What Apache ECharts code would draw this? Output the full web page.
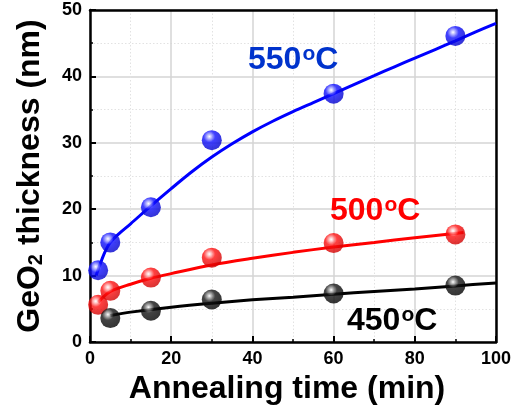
<!DOCTYPE html>
<html><head><meta charset="utf-8">
<script src="https://cdn.jsdelivr.net/npm/echarts@6/dist/echarts.min.js"></script>
<style>html,body{margin:0;padding:0;background:#fff}#c{width:528px;height:414px}</style>
</head><body><div id="c"></div>
<script>
// measured points
const x450 = [5, 15, 30, 60, 90];
const y450 = [3.6, 4.7, 6.4, 7.3, 8.5];
const x500 = [2, 5, 15, 30, 60, 90];
const y500 = [5.6, 7.7, 9.7, 12.7, 14.9, 16.2];
const x550 = [2, 5, 15, 30, 60, 90];
const y550 = [10.8, 15.0, 20.3, 30.4, 37.4, 46.1];
// fitted curves
const fitX450 = [5, 10, 20, 30, 40, 50, 60, 70, 80, 90, 100];
const fitY450 = [4.0, 4.5, 5.25, 5.85, 6.35, 6.75, 7.2, 7.6, 8.0, 8.45, 8.9];
const fitX500 = [2, 5, 10, 15, 20, 30, 40, 50, 60, 70, 80, 92];
const fitY500 = [6.0, 7.6, 8.7, 9.6, 10.3, 11.6, 12.6, 13.5, 14.3, 15.0, 15.7, 16.5];
const fitX550 = [1.5, 3.5, 5, 7.5, 10, 15, 20, 25, 30, 35, 40, 45, 50, 55, 60, 65, 70, 75, 80, 85, 90, 95, 100];
const fitY550 = [10.0, 13.3, 15.0, 16.5, 17.8, 20.5, 23.1, 25.6, 27.85, 29.85, 31.65, 33.25, 34.7, 36.05, 37.4, 38.75, 40.1, 41.45, 42.75, 44.05, 45.35, 46.7, 48.0];
const labels = ['550', '500', '450'];
const xTicks = [0, 20, 40, 60, 80, 100];
const yTicks = [0, 10, 20, 30, 40, 50];

const FONT = '"Liberation Sans", Arial, sans-serif';
const zip = (a, b) => a.map((v, i) => [v, b[i]]);
function sphere(c1, c2, c3) {
  return {type: 'radial', x: 0.38, y: 0.32, r: 0.72, colorStops: [
    {offset: 0, color: '#ffffff'}, {offset: 0.12, color: c1},
    {offset: 0.4, color: c2}, {offset: 1, color: c3}]};
}
const chart = echarts.init(document.getElementById('c'));
const axisBase = {
  type: 'value', min: 0,
  axisLine: {show: true, lineStyle: {color: '#000', width: 2.5}},
  axisTick: {show: true, inside: true, length: 6, lineStyle: {color: '#000', width: 2}},
  minorTick: {show: true, splitNumber: 2, length: 3, lineStyle: {color: '#000', width: 1.5}},
  splitLine: {show: true, lineStyle: {color: '#d4d4d4', width: 1.5}},
  minorSplitLine: {show: true, lineStyle: {color: '#e2e2e2', width: 1, type: [1.5, 2]}},
  axisLabel: {color: '#000', fontFamily: FONT, fontWeight: 'bold', fontSize: 18, margin: 8}
};
const frame = {type: 'value', min: 0, axisLine: {show: true, onZero: false, lineStyle: {color: '#000', width: 2.5}},
  axisTick: {show: false}, axisLabel: {show: false}, splitLine: {show: false}};
function seriesFor(fx, fy, px, py, color, grad) {
  return [
    {type: 'line', data: zip(fx, fy), smooth: 0.3, showSymbol: false, symbol: 'none',
     lineStyle: {color: color, width: 3}, z: 3, silent: true},
    {type: 'scatter', data: zip(px, py), symbolSize: 20, z: 5,
     itemStyle: {color: grad, borderWidth: 0}}
  ];
}
const txt = (s, color, x, y) => ({
  type: 'text', left: x, top: y, z: 10,
  style: {rich: {a: {fontSize: 32, fontWeight: 'bold', fontFamily: FONT, fill: color},
                 s: {fontSize: 21, fontWeight: 'bold', fontFamily: FONT, fill: color, verticalAlign: 'top', padding: [0,0,8,1]}},
          text: '{a|' + s + '}{s|o}{a|C}'}
});
chart.setOption({
  animation: false,
  grid: {left: 90, right: 32, top: 10, bottom: 72},
  xAxis: [Object.assign({}, axisBase, {max: xTicks[xTicks.length - 1], interval: xTicks[1] - xTicks[0],
      name: 'Annealing time (min)', nameLocation: 'middle', nameGap: 30,
      nameTextStyle: {color: '#000', fontFamily: FONT, fontWeight: 'bold', fontSize: 32, padding: [0, 12, 0, 0]}}),
    Object.assign({}, frame, {position: 'top', max: 100})],
  yAxis: [Object.assign({}, axisBase, {max: yTicks[yTicks.length - 1], interval: yTicks[1] - yTicks[0],
      name: 'GeO{sub|2} thickness (nm)', nameLocation: 'middle', nameGap: 44,
      nameTextStyle: {color: '#000', fontFamily: FONT, fontWeight: 'bold', fontSize: 32,
        rich: {sub: {fontSize: 20, fontWeight: 'bold', fontFamily: FONT, color: '#000', verticalAlign: 'bottom', padding: [10, 0, 0, 0]}}}}),
    Object.assign({}, frame, {position: 'right', max: 50})],
  series: [].concat(
    seriesFor(fitX550, fitY550, x550, y550, '#0000ff', sphere('#b8b8ff', '#1010ff', '#0000c8')),
    seriesFor(fitX500, fitY500, x500, y500, '#ff0000', sphere('#ffc0c0', '#ff1010', '#cc0000')),
    seriesFor(fitX450, fitY450, x450, y450, '#000000', sphere('#b0b0b0', '#151515', '#000000'))
  ),
  graphic: [txt(labels[0], '#0033cc', 248, 44), txt(labels[1], '#ff0000', 330, 195), txt(labels[2], '#000000', 347, 305)]
});
</script></body></html>
